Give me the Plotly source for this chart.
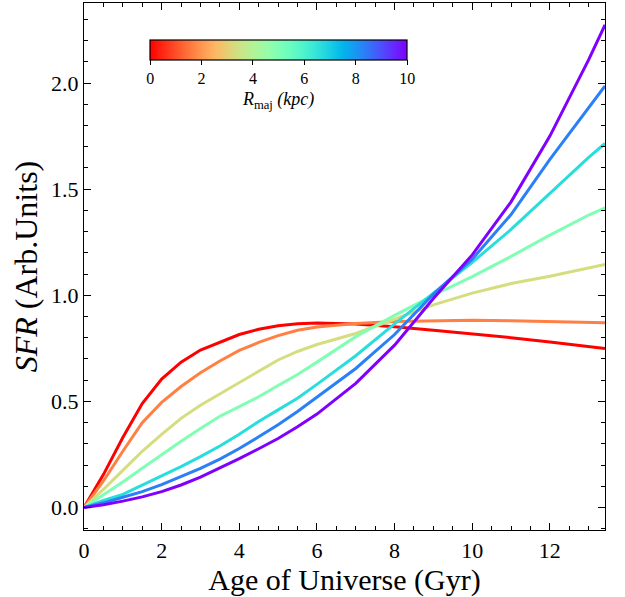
import numpy as np
import plotly.graph_objects as go

# ---- data ----
age = [0, 0.5, 1, 1.5, 2, 2.5, 3, 3.5, 4, 4.5, 5, 5.5, 6, 7, 8, 9, 10, 11, 12, 13, 13.42]

R_maj = [0, 1.67, 3.33, 5, 6.67, 8.33, 10]

sfr_r0 = [0, 0.155, 0.33, 0.49, 0.605, 0.685, 0.742, 0.78, 0.815, 0.84, 0.856, 0.866, 0.869, 0.865, 0.852, 0.835, 0.818, 0.80, 0.78, 0.76, 0.749]
sfr_r1 = [0, 0.125, 0.265, 0.40, 0.495, 0.57, 0.635, 0.69, 0.74, 0.778, 0.81, 0.835, 0.85, 0.867, 0.876, 0.88, 0.882, 0.88, 0.876, 0.873, 0.871]
sfr_r2 = [0, 0.085, 0.175, 0.265, 0.345, 0.42, 0.482, 0.535, 0.59, 0.642, 0.695, 0.735, 0.768, 0.82, 0.888, 0.955, 1.01, 1.055, 1.09, 1.13, 1.145]
sfr_r3 = [0, 0.058, 0.12, 0.185, 0.25, 0.312, 0.372, 0.43, 0.475, 0.522, 0.575, 0.627, 0.685, 0.805, 0.905, 1.0, 1.088, 1.183, 1.283, 1.378, 1.412]
sfr_r4 = [0, 0.033, 0.062, 0.105, 0.148, 0.193, 0.24, 0.29, 0.345, 0.405, 0.46, 0.515, 0.58, 0.715, 0.865, 1.01, 1.155, 1.31, 1.48, 1.65, 1.715]
sfr_r5 = [0, 0.022, 0.048, 0.075, 0.108, 0.145, 0.184, 0.228, 0.278, 0.333, 0.39, 0.452, 0.52, 0.655, 0.815, 1.005, 1.17, 1.38, 1.64, 1.88, 1.986]
sfr_r6 = [0, 0.013, 0.03, 0.05, 0.075, 0.106, 0.143, 0.185, 0.23, 0.277, 0.325, 0.38, 0.44, 0.585, 0.765, 0.985, 1.19, 1.44, 1.75, 2.11, 2.274]

series = [sfr_r0, sfr_r1, sfr_r2, sfr_r3, sfr_r4, sfr_r5, sfr_r6]

x_ticks = [0, 2, 4, 6, 8, 10, 12]
y_ticks = [0.0, 0.5, 1.0, 1.5, 2.0]
cbar_ticks = [0, 2, 4, 6, 8, 10]
R_MIN, R_MAX = 0, 10


def rainbow_r(v):
    """matplotlib 'rainbow' colormap, reversed; v in [0, 1]."""
    x = 1.0 - v
    r = min(1.0, abs(2 * x - 0.5))
    g = np.sin(np.pi * x)
    b = np.cos(np.pi * x / 2)
    return "rgb(%d,%d,%d)" % (round(r * 255), round(max(g, 0) * 255), round(max(b, 0) * 255))


colorscale = [[i / 50, rainbow_r(i / 50)] for i in range(51)]

FONT = "Liberation Serif"

fig = go.Figure()
for R, y in zip(R_maj, series):
    fig.add_trace(go.Scatter(
        x=age, y=y, mode="lines",
        line=dict(color=rainbow_r((R - R_MIN) / (R_MAX - R_MIN)), width=3),
        showlegend=False, hoverinfo="skip",
    ))

# colour bar (invisible markers carrying the R_maj values)
fig.add_trace(go.Scatter(
    x=[None] * len(R_maj), y=[None] * len(R_maj), mode="markers",
    marker=dict(
        color=R_maj, colorscale=colorscale, cmin=R_MIN, cmax=R_MAX, showscale=True,
        colorbar=dict(
            orientation="h", x=0.3736, xanchor="center", y=0.9298, yanchor="top",
            len=0.4939, lenmode="fraction", thickness=20, thicknessmode="pixels",
            outlinecolor="black", outlinewidth=1.2,
            tickvals=cbar_ticks, ticks="outside", ticklen=5, tickcolor="black",
            tickfont=dict(family=FONT, size=16, color="black"),
            title=dict(text="<i>R</i><sub>maj</sub> <i>(kpc)</i>", side="bottom",
                       font=dict(family=FONT, size=18, color="black")),
            xpad=0, ypad=0,
        ),
    ),
    showlegend=False, hoverinfo="skip",
))

axis_common = dict(
    showgrid=False, zeroline=False, showline=True, linecolor="black", linewidth=1.3,
    mirror="ticks", ticks="inside", ticklen=6.5, tickwidth=1.1, tickcolor="black",
    tickfont=dict(family=FONT, size=22, color="black"),
)

fig.update_xaxes(
    range=[0, 13.42], tickvals=x_ticks,
    minor=dict(dtick=0.5, ticks="inside", ticklen=3.5, tickwidth=1, tickcolor="black"),
    title=dict(text="Age of Universe (Gyr)", font=dict(family=FONT, size=30, color="black"), standoff=4),
    **axis_common,
)
fig.update_yaxes(
    range=[-0.106, 2.377], tickvals=y_ticks, tickformat=".1f",
    minor=dict(dtick=0.1, ticks="inside", ticklen=3.5, tickwidth=1, tickcolor="black"),
    title=dict(text="<i>SFR</i> (Arb.Units)", font=dict(family=FONT, size=32, color="black"), standoff=3),
    **axis_common,
)

fig.update_layout(
    width=625, height=597,
    margin=dict(l=84, r=20, t=3, b=67),
    paper_bgcolor="white", plot_bgcolor="white",
)

fig.write_html("out.html", config={"displayModeBar": False},
               post_script="document.body.style.margin='0';")
